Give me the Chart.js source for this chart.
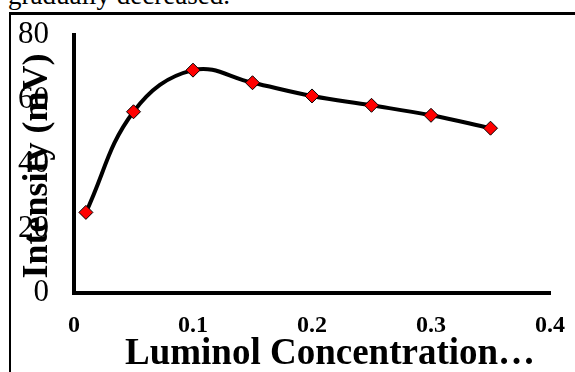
<!DOCTYPE html>
<html>
<head>
<meta charset="utf-8">
<script src="https://cdn.jsdelivr.net/npm/chart.js@4/dist/chart.umd.min.js"></script>
<style>
  html, body { margin: 0; padding: 0; background: #fff; overflow: hidden; }
  #wrap { position: relative; width: 575px; height: 372px; }
  #topText {
    position: absolute; left: 8px; top: -18px;
    font: 27px 'Liberation Serif', serif; line-height: 27px; color: #000;
    white-space: nowrap;
  }
  #frame {
    position: absolute; left: 9px; top: 12px; width: 580px; height: 400px;
    border-left: 2px solid #000; border-top: 3px solid #000;
  }
  #chart { position: absolute; left: 0; top: 0; }
</style>
</head>
<body>
<div id="wrap">
  <div id="topText">gradually decreased.</div>
  <div id="frame"></div>
  <canvas id="chart" width="575" height="372"></canvas>
</div>
<script>
// 数据
const concentrations = [0.01, 0.05, 0.10, 0.15, 0.20, 0.25, 0.30, 0.35];
const intensities = [25.0, 56.2, 69.1, 65.2, 61.1, 58.2, 55.1, 51.1];
const xTickLabels = ['0', '0.1', '0.2', '0.3', '0.4'];
const yTicks = [0, 20, 40, 60, 80];
const xTitle = 'Luminol Concentration…';
const yTitle = 'Intensity (mV)';

// 坐标轴标题（手动绘制，位置贴近原图）
const axisTitles = {
  id: 'axisTitles',
  afterDraw(chart) {
    const { ctx } = chart;
    ctx.save();
    ctx.fillStyle = '#000';
    ctx.textAlign = 'center';
    ctx.textBaseline = 'middle';
    ctx.font = 'bold 37px "Liberation Serif", serif';
    ctx.fillText(xTitle, 330, 354);
    ctx.translate(38, 166);
    ctx.rotate(-Math.PI / 2);
    ctx.font = 'bold 36px "Liberation Serif", serif';
    ctx.fillText(yTitle, 0, 0);
    ctx.restore();
  }
};

const ctx = document.getElementById('chart').getContext('2d');
new Chart(ctx, {
  type: 'line',
  data: {
    datasets: [{
      data: concentrations.map((x, i) => ({ x: x, y: intensities[i] })),
      borderColor: '#000',
      borderWidth: 4,
      tension: 0.4,
      pointStyle: 'rectRot',
      pointRadius: 7,
      pointBackgroundColor: '#ff0000',
      pointBorderColor: '#000',
      pointBorderWidth: 1
    }]
  },
  options: {
    responsive: false,
    animation: false,
    layout: { padding: { top: 35, right: 25, left: 0, bottom: 0 } },
    plugins: { legend: { display: false }, tooltip: { enabled: false } },
    scales: {
      x: {
        type: 'linear',
        min: 0,
        max: 0.4,
        afterBuildTicks: s => { s.ticks = xTickLabels.map(v => ({ value: parseFloat(v) })); },
        afterFit: s => { s.height = 79; s.paddingLeft = 0; s.paddingRight = 0; },
        grid: { display: false, drawTicks: false },
        border: { display: true, color: '#000', width: 4 },
        ticks: {
          color: '#000',
          padding: 18,
          maxRotation: 0,
          font: { family: 'Liberation Serif', size: 24, weight: 'bold' },
          callback: (v, i) => xTickLabels[i]
        }
      },
      y: {
        min: 0,
        max: 80,
        afterBuildTicks: s => { s.ticks = yTicks.map(v => ({ value: v })); },
        afterFit: s => { s.width = 74; s.paddingTop = 0; s.paddingBottom = 0; },
        grid: { display: false, drawTicks: false },
        border: { display: true, color: '#000', width: 4 },
        ticks: {
          color: '#000',
          padding: 25,
          font: { family: 'Liberation Serif', size: 31 }
        }
      }
    }
  },
  plugins: [axisTitles]
});
</script>
</body>
</html>
